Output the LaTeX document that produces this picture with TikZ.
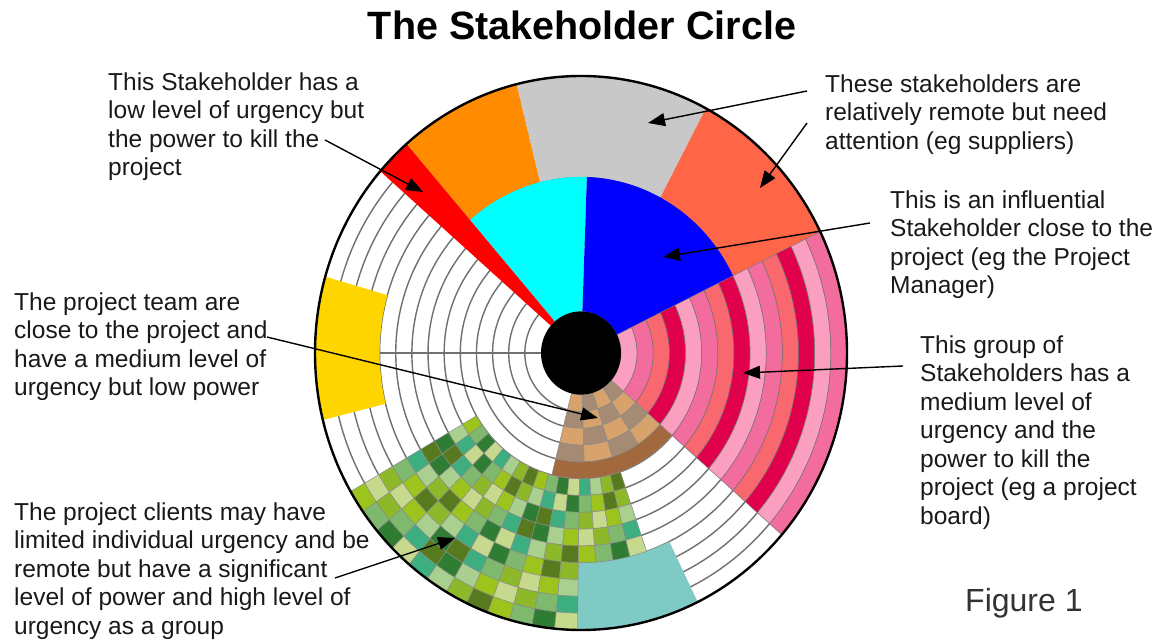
\documentclass[tikz,border=0pt]{standalone}
\usepackage{fontspec}
\setmainfont{Liberation Sans}
\usetikzlibrary{arrows.meta}

% Sector colours
\definecolor{ringline}{HTML}{707070}
\definecolor{sred}{HTML}{FF0000}
\definecolor{sorange}{HTML}{FF8C00}
\definecolor{sgray}{HTML}{C8C8C8}
\definecolor{stomato}{HTML}{FF6648}
\definecolor{scyan}{HTML}{00FFFF}
\definecolor{sblue}{HTML}{0000FF}
\definecolor{syellow}{HTML}{FFD500}
\definecolor{steal}{HTML}{80CAC6}
% Pink stripes
\definecolor{pk0}{HTML}{FA9FC0}
\definecolor{pk1}{HTML}{F26C9E}
\definecolor{pk2}{HTML}{F9676F}
\definecolor{pk3}{HTML}{E0004C}
% Brown cells
\definecolor{br0}{HTML}{D8A26C}
\definecolor{br1}{HTML}{A58B74}
\definecolor{br2}{HTML}{A2693F}
% Green cells
\definecolor{gr0}{HTML}{577A1E}
\definecolor{gr1}{HTML}{8DB82A}
\definecolor{gr2}{HTML}{A9D08E}
\definecolor{gr3}{HTML}{3DAE80}
\definecolor{gr4}{HTML}{C7D98C}
\definecolor{gr5}{HTML}{2F7D32}
\definecolor{gr6}{HTML}{7EB96E}
\definecolor{gr7}{HTML}{9CC41C}

\tikzset{
  declare function={rr(\k)=(40+16.14*\k)/266;},
  note/.style={anchor=north west, inner sep=0pt, align=left, text=black!90,
    font=\fontsize{24.5}{28.5}\selectfont},
  pointer/.style={draw=black, line width=1.4pt, -{Triangle[length=17pt,width=13pt]}},
  cellline/.style={draw=black!45, line width=0.5pt}
}

% annulus piece: options, start angle, end angle, inner ring, outer ring
\newcommand\ringsector[5]{%
  \path[#1] (#2:{rr(#4)}) arc[start angle=#2, end angle=#3, radius={rr(#4)}]
    -- (#3:{rr(#5)}) arc[start angle=#3, end angle=#2, radius={rr(#5)}] -- cycle;}

\begin{document}
\begin{tikzpicture}[x=1pt,y=1pt]
  \useasboundingbox (0,0) rectangle (1166,644);

  % Title
  \node (title) at (582,604) [anchor=base, font=\fontsize{39.5}{44}\selectfont\bfseries]
    {The Stakeholder Circle};

  % The circle
  \begin{scope}[shift={(581,291)}, xscale=266, yscale=277]

    % White rings
    \fill[white] (0,0) circle[radius=1];
    \foreach \k in {1,...,13}
      \draw[ringline, line width=1.4pt] (0,0) circle[radius={rr(\k)}];
    \draw[ringline, line width=1.4pt] (180:{rr(0)}) -- (180:{rr(10)});

    % Plain sectors
    \ringsector{fill=sorange}{104}{131}{8}{14}
    \ringsector{fill=sgray}{62}{104}{8}{14}
    \ringsector{fill=stomato}{26}{62}{8}{14}
    \ringsector{fill=scyan}{88}{131}{0}{8}
    \ringsector{fill=sblue}{26}{88}{0}{8}
    \ringsector{fill=sred}{131}{139}{0}{14}
    \ringsector{fill=syellow}{164}{194}{10}{14}
    \ringsector{fill=steal}{-90.75}{-64}{10}{14}

    % Pink stripes
    \foreach \k in {0,...,13}{
      \pgfmathtruncatemacro\pc{mod(\k,4)}
      \ringsector{fill=pk\pc, draw=black!55, line width=0.5pt}{-41}{26}{\k}{\k+1}
    }

    % Green mosaic
    \foreach \j in {0,...,15}{
      \pgfmathsetmacro\ga{-150+4.9375*\j}
      \pgfmathsetmacro\gb{\ga+4.9375}
      \pgfmathtruncatemacro\kt{\j<12 ? 13 : 9}
      \foreach \k in {5,...,\kt}{
        \pgfmathtruncatemacro\ci{mod(5*\j+3*\k+2*mod(\j*\k,4),8)}
        \ringsector{fill=gr\ci, cellline}{\ga}{\gb}{\k}{\k+1}
      }
    }

    % Brown cells
    \foreach \k in {0,...,3}
      \foreach \j in {0,...,3}{
        \pgfmathsetmacro\ba{-104+15.75*\j}
        \pgfmathsetmacro\bb{\ba+15.75}
        \pgfmathtruncatemacro\bi{mod(\j+\k,2)}
        \ringsector{fill=br\bi, cellline}{\ba}{\bb}{\k}{\k+1}
      }
    \ringsector{fill=br2, cellline}{-104}{-41}{4}{5}

    % Centre and rim
    \fill[black] (0,0) circle[radius={rr(0)}];
    \draw[black, line width=2.4pt] (0,0) circle[radius=1];
  \end{scope}

  % Notes
  \node (killer) at (108,571.6) [note]
    {This Stakeholder has a\\low level of urgency but\\the power to kill the\\project};
  \node (remote) at (825,569.6) [note]
    {These stakeholders are\\relatively remote but need\\attention (eg suppliers)};
  \node (influential) at (890,453.6) [note]
    {This is an influential\\Stakeholder close to the\\project (eg the Project\\Manager)};
  \node (board) at (920,308.6) [note]
    {This group of\\Stakeholders has a\\medium level of\\urgency and the\\power to kill the\\project (eg a project\\board)};
  \node (team) at (14,351.6) [note]
    {The project team are\\close to the project and\\have a medium level of\\urgency but low power};
  \node (clients) at (14,141.6) [note]
    {The project clients may have\\limited individual urgency and be\\remote but have a significant\\level of power and high level of\\urgency as a group};
  \node (figure) at (965,32) [anchor=base west, inner sep=0pt, text=black!80,
    font=\fontsize{32}{36}\selectfont] {Figure 1};

  % Pointer ends
  \coordinate (killerFrom) at (325,504);
  \coordinate (killerTo) at (423,452);
  \coordinate (remoteFromA) at (807,553);
  \coordinate (remoteToA) at (648,521);
  \coordinate (remoteFromB) at (807,521);
  \coordinate (remoteToB) at (760,456);
  \coordinate (influentialFrom) at (870,421);
  \coordinate (influentialTo) at (663,387);
  \coordinate (boardFrom) at (903,278);
  \coordinate (boardTo) at (743,271);
  \coordinate (teamFrom) at (267,307);
  \coordinate (teamTo) at (598,226);
  \coordinate (clientsFrom) at (335,66);
  \coordinate (clientsTo) at (455,106);

  % Pointers
  \draw[pointer] (killerFrom) -- (killerTo);
  \draw[pointer] (remoteFromA) -- (remoteToA);
  \draw[pointer] (remoteFromB) -- (remoteToB);
  \draw[pointer] (influentialFrom) -- (influentialTo);
  \draw[pointer] (boardFrom) -- (boardTo);
  \draw[pointer] (teamFrom) -- (teamTo);
  \draw[pointer] (clientsFrom) -- (clientsTo);

\end{tikzpicture}
\end{document}
